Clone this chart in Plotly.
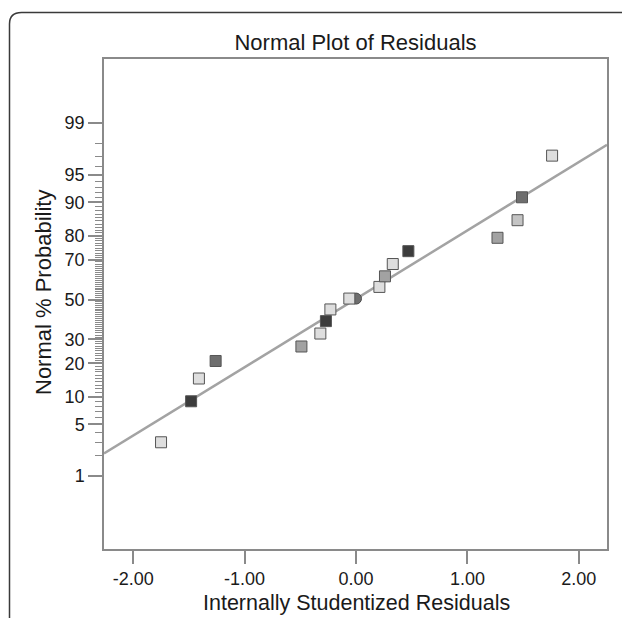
from statistics import NormalDist
import plotly.graph_objects as go

# ---------------- data ----------------
residuals = [-1.75, -1.48, -1.41, -1.26, -0.49, -0.32, -0.27, -0.23, -0.06,
             0.21, 0.26, 0.33, 0.47, 1.27, 1.45, 1.49, 1.76]
probability = [3.0, 9.0, 14.9, 20.9, 26.8, 32.7, 38.8, 44.8, 50.5,
               56.6, 62.0, 68.0, 73.8, 79.2, 85.2, 91.1, 97.1]
shade_level = [1, 4, 1, 3, 2, 1, 4, 1, 1, 1, 2, 1, 4, 2, 1.5, 3, 1]

# point hidden behind the square at 50 %
hidden_residual = [0.0]
hidden_probability = [50.5]
hidden_level = [3]

# normal-fit line parameters
fit_mean = -0.01
fit_sd = 1.11

x_tick_vals = [-2, -1, 0, 1, 2]
y_major_pct = [1, 5, 10, 20, 30, 50, 70, 80, 90, 95, 99]
y_minor_pct = [p for p in range(2, 99) if p not in y_major_pct]

x_range = [-2.262, 2.253]
z_range = [-3.287, 3.169]

chart_title = "Normal Plot of Residuals"
x_title = "Internally Studentized Residuals"
y_title = "Normal % Probability"

# ---------------- helpers ----------------
nd = NormalDist()
def z(p):
    return nd.inv_cdf(p / 100.0)

shade_colors = {1: "#dedede", 1.5: "#c4c4c4", 2: "#a2a2a2", 3: "#6e6e6e", 4: "#3c3c3c"}

fig = go.Figure()

# fit line
fit_x = list(x_range)
fit_z = [(v - fit_mean) / fit_sd for v in fit_x]
fig.add_trace(go.Scatter(x=fit_x, y=fit_z, mode="lines",
                         line=dict(color="#a3a3a3", width=2.5),
                         hoverinfo="skip", showlegend=False))

# hidden circle
fig.add_trace(go.Scatter(
    x=hidden_residual, y=[z(p) for p in hidden_probability], mode="markers",
    marker=dict(symbol="circle", size=11,
                color=[shade_colors[s] for s in hidden_level],
                line=dict(color="#4a4a4a", width=1)),
    showlegend=False))

# residual squares
fig.add_trace(go.Scatter(
    x=residuals, y=[z(p) for p in probability], mode="markers",
    marker=dict(symbol="square", size=11,
                color=[shade_colors[s] for s in shade_level],
                line=dict(color="#555555", width=1)),
    showlegend=False))

# pixel -> paper helpers for layout decorations
L, R, T, B = 104, 607, 59, 549
def px(xp):
    return (xp - L) / (R - L)
def py(yp):
    return (B - yp) / (B - T)

frame_path = (f"M {px(9.5)},{py(640)} L {px(9.5)},{py(24)} "
              f"Q {px(9.5)},{py(12.5)} {px(21.5)},{py(12.5)} L {px(640)},{py(12.5)}")

font_family = "Liberation Sans, Arial, sans-serif"
txt = "#1a1a1a"

fig.update_layout(
    width=622, height=618,
    margin=dict(l=L, r=622 - R, t=T, b=618 - B, autoexpand=False),
    paper_bgcolor="white", plot_bgcolor="white",
    font=dict(family=font_family, color=txt),
    title=dict(text=chart_title, font=dict(size=22, color=txt),
               x=0.5, xref="paper", xanchor="center",
               y=1 - 42 / 618, yref="container", yanchor="middle"),
    shapes=[dict(type="path", path=frame_path, xref="paper", yref="paper",
                 line=dict(color="#3a3a3a", width=1.5), layer="above")],
    annotations=[
        dict(text=x_title, xref="paper", yref="paper", x=px(356), y=py(603),
             xanchor="center", yanchor="middle", showarrow=False,
             font=dict(size=21.5, color=txt)),
        dict(text=y_title, xref="paper", yref="paper", x=px(43), y=py(293),
             xanchor="center", yanchor="middle", showarrow=False, textangle=-90,
             font=dict(size=22, color=txt)),
    ],
)

fig.update_xaxes(
    range=x_range, showgrid=False, zeroline=False, automargin=False,
    showline=True, linecolor="#8a8a8a", linewidth=1.5, mirror=True,
    ticks="outside", ticklen=13, tickcolor="#8a8a8a", tickwidth=1.5,
    tickvals=x_tick_vals, ticktext=[f"{v:.2f}" for v in x_tick_vals],
    tickfont=dict(size=18, color=txt),
)

fig.update_yaxes(
    range=z_range, showgrid=False, zeroline=False, automargin=False,
    showline=True, linecolor="#8a8a8a", linewidth=1.5, mirror=True,
    ticks="outside", ticklen=14, tickcolor="#8a8a8a", tickwidth=1.5,
    tickvals=[z(p) for p in y_major_pct], ticktext=[str(p) for p in y_major_pct],
    tickfont=dict(size=18, color=txt),
    minor=dict(tickmode="array", tickvals=[z(p) for p in y_minor_pct],
               ticks="outside", ticklen=7, tickcolor="#8a8a8a", tickwidth=1,
               showgrid=False),
)

fig.write_html("out.html")
